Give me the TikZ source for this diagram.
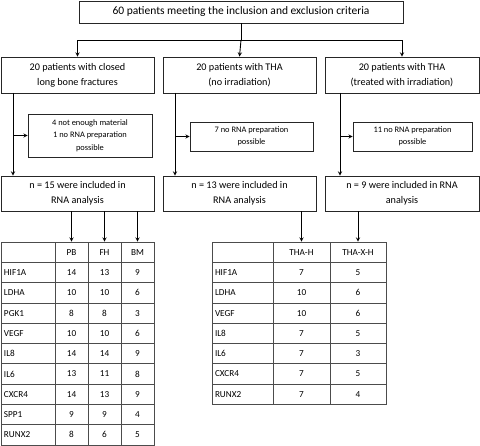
\documentclass[tikz,border=0pt]{standalone}
\usepackage{fontspec}
\setmainfont{Carlito}
\usetikzlibrary{positioning}

\begin{document}
\begin{tikzpicture}[x=1pt,y=-1pt,>=stealth,
                    box/.style={draw=black!85,line width=0.8pt,inner sep=0pt,align=center,
                                font=\fontsize{10.2}{15}\selectfont},
                    exbox/.style={draw=black!85,line width=0.7pt,inner sep=0pt,align=center,
                                  font=\fontsize{8.4}{12.5}\selectfont},
                    cell/.style={draw=black!70,line width=0.7pt,inner sep=0pt,minimum height=20.3pt,
                                 font=\fontsize{9.2}{10}\selectfont},
                    namecell/.style={cell,inner xsep=3pt,text width=48pt,align=left},
                    link/.style={->,line width=0.9pt}]

  \useasboundingbox (0,0) rectangle (480,446);

  % flow chart boxes
  \node[box,minimum width=324pt,minimum height=22pt,font=\fontsize{11.5}{14}\selectfont]
    (top) at (241,12) {60 patients meeting the inclusion and exclusion criteria};

  \node[box,minimum width=153pt,minimum height=36pt] (g1) at (77.5,75)  {20 patients with closed\\long bone fractures};
  \node[box,minimum width=153pt,minimum height=36pt] (g2) at (239.5,75) {20 patients with THA\\(no irradiation)};
  \node[box,minimum width=154pt,minimum height=36pt] (g3) at (402,75)   {20 patients with THA\\(treated with irradiation)};

  \node[exbox,minimum width=124pt,minimum height=43pt] (ex1) at (90,135.5)   {4 not enough material\\1 no RNA preparation\\possible};
  \node[exbox,minimum width=123pt,minimum height=29pt] (ex2) at (251.5,136.5) {7 no RNA preparation\\possible};
  \node[exbox,minimum width=119pt,minimum height=29pt] (ex3) at (412.5,136.5) {11 no RNA preparation\\possible};

  \node[box,minimum width=153pt,minimum height=35pt] (n1) at (77.5,193.5)  {n = 15 were included in\\RNA analysis};
  \node[box,minimum width=153pt,minimum height=35pt] (n2) at (239.5,193.5) {n = 13 were included in\\RNA analysis};
  \node[box,minimum width=154pt,minimum height=35pt] (n3) at (402,193.5)   {n = 9 were included in RNA\\analysis};

  % left table
  \node[namecell,minimum width=54pt] (l0) at (28,252.15) {};
  \node[cell,minimum width=33pt] (pb) at (71.5,252.15)  {PB};
  \node[cell,minimum width=33pt] (fh) at (104.5,252.15) {FH};
  \node[cell,minimum width=33pt] (bm) at (137.5,252.15) {BM};
  \foreach \g/\a/\b/\c [count=\i] in {HIF1A/14/13/9,LDHA/10/10/6,PGK1/8/8/3,VEGF/10/10/6,IL8/14/14/9,
                                       IL6/13/11/8,CXCR4/14/13/9,SPP1/9/9/4,RUNX2/8/6/5} {
    \node[namecell] (l\i) at (28,252.15+20.3*\i) {\g};
    \node[cell,minimum width=33pt] (l\i-pb) at (71.5,252.15+20.3*\i)  {\a};
    \node[cell,minimum width=33pt] (l\i-fh) at (104.5,252.15+20.3*\i) {\b};
    \node[cell,minimum width=33pt] (l\i-bm) at (137.5,252.15+20.3*\i) {\c};
  }

  % right table
  \node[cell,minimum width=61pt] (r0) at (242.5,252.15) {};
  \node[cell,minimum width=57pt] (thah) at (301.5,252.15) {THA-H};
  \node[cell,minimum width=56pt] (thaxh) at (358,252.15) {THA-X-H};
  \foreach \g/\a/\b [count=\i] in {HIF1A/7/5,LDHA/10/6,VEGF/10/6,IL8/7/5,IL6/7/3,CXCR4/7/5,RUNX2/7/4} {
    \node[namecell,text width=55pt] (r\i) at (242.5,252.15+20.3*\i) {\g};
    \node[cell,minimum width=57pt] (r\i-h) at (301.5,252.15+20.3*\i) {\a};
    \node[cell,minimum width=56pt] (r\i-xh) at (358,252.15+20.3*\i) {\b};
  }

  % connectors
  \coordinate (split) at (241,40);
  \draw[line width=0.9pt] (top.south) -- (split);
  \draw[link] (split) -| (g1.north);
  \draw[link] (split) -- (g2.north);
  \draw[link] (split) -| (g3.north);

  \coordinate (d1) at (13,93);
  \coordinate (d2) at (175,93);
  \coordinate (d3) at (340,93);
  \draw[link] (d1) -- (d1 |- n1.north);
  \draw[link] (d2) -- (d2 |- n2.north);
  \draw[link] (d3) -- (d3 |- n3.north);
  \draw[link] (d1 |- ex1.west) -- (ex1.west);
  \draw[link] (d2 |- ex2.west) -- (ex2.west);
  \draw[link] (d3 |- ex3.west) -- (ex3.west);

  \draw[link] (n1.south -| pb) -- (pb.north);
  \draw[link] (n1.south -| fh) -- (fh.north);
  \draw[link] (n1.south -| bm) -- (bm.north);
  \draw[link] (n2.south -| thah) -- (thah.north);
  \draw[link] (n3.south -| thaxh) -- (thaxh.north);

\end{tikzpicture}
\end{document}
